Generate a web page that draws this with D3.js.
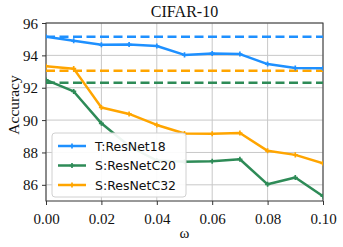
<!DOCTYPE html>
<html>
<head>
<meta charset="UTF-8">
<title>CIFAR-10</title>
<style>
  body { margin: 0; background: #fff; }
</style>
</head>
<body>
<div id="chart"></div>
<script src="https://cdn.jsdelivr.net/npm/d3@7"></script>
<script>
// data
var omega = [0, 0.01, 0.02, 0.03, 0.04, 0.05, 0.06, 0.07, 0.08, 0.09, 0.10];
var teacher = [95.15, 94.9, 94.65, 94.67, 94.58, 94.03, 94.12, 94.08, 93.46, 93.22, 93.2];
var c20 = [92.48, 91.77, 89.8, 88.4, 87.5, 87.43, 87.46, 87.58, 86.03, 86.45, 85.3];
var c32 = [93.33, 93.18, 90.78, 90.38, 89.7, 89.17, 89.15, 89.2, 88.1, 87.85, 87.33];
var baseT = 95.15, baseC20 = 92.3, baseC32 = 93.05;
var xTicks = [0, 0.02, 0.04, 0.06, 0.08, 0.10];
var yTicks = [86, 88, 90, 92, 94, 96];

var series = [
  { name: "T:ResNet18", values: teacher, base: baseT, color: "#1e90ff" },
  { name: "S:ResNetC20", values: c20, base: baseC20, color: "#2e8b57" },
  { name: "S:ResNetC32", values: c32, base: baseC32, color: "#ffa500" }
];

var W = 343, H = 247;
var m = { left: 46, right: 20, top: 23, bottom: 46 };

var svg = d3.select("#chart").append("svg")
  .attr("width", W).attr("height", H);

var x = d3.scaleLinear().domain([0, 0.1]).range([m.left, W - m.right]);
var y = d3.scaleLinear().domain([85, 96]).range([H - m.bottom, m.top]);

// grid
svg.append("g").selectAll("line").data(xTicks).join("line")
  .attr("x1", d => x(d)).attr("x2", d => x(d))
  .attr("y1", y(85)).attr("y2", y(96))
  .attr("stroke", "#c8c8c8").attr("stroke-width", 1);
svg.append("g").selectAll("line").data(yTicks).join("line")
  .attr("x1", x(0)).attr("x2", x(0.1))
  .attr("y1", d => y(d)).attr("y2", d => y(d))
  .attr("stroke", "#c8c8c8").attr("stroke-width", 1);

// axes
var xAxis = svg.append("g")
  .attr("transform", "translate(0," + y(85) + ")")
  .call(d3.axisBottom(x).tickValues(xTicks).tickFormat(d3.format(".2f")).tickSizeOuter(0).tickSize(4));
var yAxis = svg.append("g")
  .attr("transform", "translate(" + x(0) + ",0)")
  .call(d3.axisLeft(y).tickValues(yTicks).tickSizeOuter(0).tickSize(4));
[xAxis, yAxis].forEach(function(a) {
  a.select(".domain").remove();
  a.selectAll("line").attr("stroke", "#333");
  a.selectAll("text")
    .attr("fill", "#111")
    .style("font-family", "'Liberation Serif', 'DejaVu Serif', serif")
    .style("font-size", "15px");
});
xAxis.selectAll("text").attr("dy", "1.05em");
yAxis.selectAll("text").attr("dx", "-1px").attr("dy", "0.34em");

// frame
svg.append("rect")
  .attr("x", x(0)).attr("y", y(96))
  .attr("width", x(0.1) - x(0)).attr("height", y(85) - y(96))
  .attr("fill", "none").attr("stroke", "#333").attr("stroke-width", 1);

var plot = svg.append("g");
svg.append("clipPath").attr("id", "clip").append("rect")
  .attr("x", x(0)).attr("y", y(96))
  .attr("width", x(0.1) - x(0)).attr("height", y(85) - y(96));
plot.attr("clip-path", "url(#clip)");

// baselines
plot.selectAll(".base").data(series).join("line")
  .attr("x1", x(0)).attr("x2", x(0.1))
  .attr("y1", d => y(d.base)).attr("y2", d => y(d.base))
  .attr("stroke", d => d.color).attr("stroke-width", 2.5)
  .attr("stroke-dasharray", "9,4.5");

var line = d3.line().x((d, i) => x(omega[i])).y(d => y(d));

series.forEach(function(s) {
  plot.append("path").datum(s.values)
    .attr("d", line)
    .attr("fill", "none").attr("stroke", s.color).attr("stroke-width", 2.5)
    .attr("stroke-linejoin", "round");
  plot.append("g").selectAll("path").data(s.values).join("path")
    .attr("d", d3.symbol(d3.symbolCross, 14))
    .attr("transform", (d, i) => "translate(" + x(omega[i]) + "," + y(d) + ")")
    .attr("fill", s.color);
});

// legend
var lg = svg.append("g").attr("transform", "translate(52,133)");
lg.append("rect").attr("width", 134).attr("height", 64).attr("rx", 3)
  .attr("fill", "#fff").attr("fill-opacity", 0.92)
  .attr("stroke", "#d0d0d0").attr("stroke-width", 1);
series.forEach(function(s, i) {
  var yy = 13 + i * 19.5;
  lg.append("line").attr("x1", 6).attr("x2", 34).attr("y1", yy).attr("y2", yy)
    .attr("stroke", s.color).attr("stroke-width", 2.5);
  lg.append("path").attr("d", d3.symbol(d3.symbolCross, 14))
    .attr("transform", "translate(20," + yy + ")").attr("fill", s.color);
  lg.append("text").attr("x", 43).attr("y", yy).attr("dy", "0.36em")
    .style("font-family", "'DejaVu Sans', sans-serif").style("font-size", "12.5px")
    .attr("fill", "#111").text(s.name);
});

// title & labels
svg.append("text").attr("x", (x(0) + x(0.1)) / 2).attr("y", 17)
  .attr("text-anchor", "middle")
  .style("font-family", "'Liberation Serif', serif").style("font-size", "16px")
  .attr("fill", "#111").text("CIFAR-10");
svg.append("text").attr("x", (x(0) + x(0.1)) / 2).attr("y", 238)
  .attr("text-anchor", "middle")
  .style("font-family", "'Liberation Serif', serif").style("font-size", "15px")
  .attr("fill", "#111").text("ω");
svg.append("text")
  .attr("transform", "translate(19,105) rotate(-90)")
  .attr("text-anchor", "middle")
  .style("font-family", "'Liberation Serif', serif").style("font-size", "15.5px")
  .attr("fill", "#111").text("Accuracy");
</script>
</body>
</html>
